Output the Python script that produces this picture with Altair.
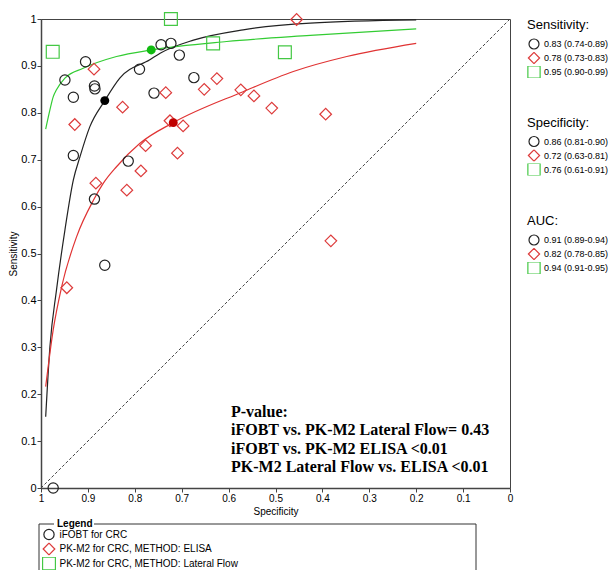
import altair as alt
import pandas as pd

# ---------------- data ----------------
series_names = ["iFOBT for CRC", "PK-M2 for CRC, METHOD: ELISA", "PK-M2 for CRC, METHOD: Lateral Flow"]
series_shapes = ["circle", "diamond", "square"]
series_sizes = [105, 165, 75]
legend_sizes = [100, 150, 68]
marker_colors = ["#222222", "#dd3b3b", "#44c844"]
curve_colors = ["#222222", "#e03333", "#33cc33"]
summary_colors = ["#000000", "#c00000", "#11bb11"]

ifobt_spec = [0.949, 0.931, 0.905, 0.886, 0.885, 0.931, 0.886, 0.814, 0.790, 0.759, 0.744, 0.723, 0.705, 0.674, 0.864, 0.974]
ifobt_sens = [0.870, 0.833, 0.909, 0.857, 0.851, 0.709, 0.616, 0.697, 0.893, 0.842, 0.945, 0.948, 0.923, 0.875, 0.475, 0.0]

elisa_spec = [0.887, 0.928, 0.826, 0.734, 0.652, 0.625, 0.574, 0.546, 0.508, 0.725, 0.697, 0.777, 0.709, 0.883, 0.787, 0.817, 0.945, 0.455, 0.393, 0.382]
elisa_sens = [0.893, 0.775, 0.812, 0.843, 0.850, 0.873, 0.849, 0.836, 0.810, 0.783, 0.772, 0.730, 0.714, 0.650, 0.676, 0.635, 0.427, 0.999, 0.797, 0.527]

lf_spec = [0.975, 0.723, 0.633, 0.480]
lf_sens = [0.930, 1.000, 0.948, 0.929]

summary_spec = [0.864, 0.718, 0.765]
summary_sens = [0.826, 0.779, 0.934]

# SROC curves
ifobt_curve_spec = [0.990, 0.981, 0.967, 0.949, 0.931, 0.917, 0.896, 0.864, 0.832, 0.768, 0.746, 0.675, 0.569, 0.426, 0.200]
ifobt_curve_sens = [0.152, 0.301, 0.422, 0.550, 0.657, 0.706, 0.770, 0.826, 0.874, 0.913, 0.927, 0.955, 0.977, 0.991, 0.998]
elisa_curve_spec = [0.990, 0.974, 0.956, 0.924, 0.888, 0.867, 0.839, 0.789, 0.718, 0.569, 0.462, 0.348, 0.200]
elisa_curve_sens = [0.216, 0.337, 0.429, 0.536, 0.614, 0.650, 0.685, 0.735, 0.779, 0.845, 0.888, 0.920, 0.948]
lf_curve_spec = [0.990, 0.981, 0.974, 0.967, 0.949, 0.910, 0.839, 0.765, 0.604, 0.426, 0.200]
lf_curve_sens = [0.765, 0.806, 0.834, 0.849, 0.874, 0.895, 0.920, 0.934, 0.952, 0.965, 0.979]

diag_spec = [1.0, 0.0]
diag_sens = [0.0, 1.0]

sens_labels = ["0.83 (0.74-0.89)", "0.78 (0.73-0.83)", "0.95 (0.90-0.99)"]
spec_labels = ["0.86 (0.81-0.90)", "0.72 (0.63-0.81)", "0.76 (0.61-0.91)"]
auc_labels = ["0.91 (0.89-0.94)", "0.82 (0.78-0.85)", "0.94 (0.91-0.95)"]

pvalue_lines = ["P-value:",
                "iFOBT vs. PK-M2 Lateral Flow= 0.43",
                "iFOBT vs. PK-M2 ELISA <0.01",
                "PK-M2 Lateral Flow vs. ELISA <0.01"]

axis_ticks = [0, 0.1, 0.2, 0.3, 0.4, 0.5, 0.6, 0.7, 0.8, 0.9, 1]

# ---------------- tables ----------------
pts = pd.concat([
    pd.DataFrame({"spec": ifobt_spec, "sens": ifobt_sens, "series": series_names[0]}),
    pd.DataFrame({"spec": elisa_spec, "sens": elisa_sens, "series": series_names[1]}),
    pd.DataFrame({"spec": lf_spec, "sens": lf_sens, "series": series_names[2]}),
], ignore_index=True)
summ = pd.DataFrame({"spec": summary_spec, "sens": summary_sens, "series": series_names})
curves = pd.concat([
    pd.DataFrame({"spec": ifobt_curve_spec, "sens": ifobt_curve_sens, "series": series_names[0]}),
    pd.DataFrame({"spec": elisa_curve_spec, "sens": elisa_curve_sens, "series": series_names[1]}),
    pd.DataFrame({"spec": lf_curve_spec, "sens": lf_curve_sens, "series": series_names[2]}),
], ignore_index=True)
diag = pd.DataFrame({"spec": diag_spec, "sens": diag_sens})
one = pd.DataFrame({"k": [0]})

FONT = "Liberation Sans"

x_enc = alt.X("spec:Q", scale=alt.Scale(domain=[0, 1], reverse=True, nice=False),
              axis=alt.Axis(values=axis_ticks, format="~g", title="Specificity",
                            labelFontSize=10, titleFontSize=10, tickSize=4,
                            labelPadding=1, titlePadding=3, labelFlush=False))
y_enc = alt.Y("sens:Q", scale=alt.Scale(domain=[0, 1], nice=False),
              axis=alt.Axis(values=axis_ticks, format="~g", title="Sensitivity",
                            labelFontSize=11, titleFontSize=10, tickSize=4,
                            labelPadding=1, titlePadding=2, labelFlush=False))

diag_layer = alt.Chart(diag).mark_line(color="#444444", strokeDash=[3, 2], strokeWidth=1).encode(
    x=x_enc, y=y_enc)

curve_layer = alt.Chart(curves).mark_line(strokeWidth=1.2, interpolate="monotone").encode(
    x=x_enc, y=y_enc,
    color=alt.Color("series:N", scale=alt.Scale(domain=series_names, range=curve_colors), legend=None),
    order=alt.Order("spec:Q", sort="descending"))

main_legend = alt.Legend(title=None, orient="none", legendX=0.5, legendY=509,
                         labelFont=FONT, labelFontSize=10, labelColor="black", labelLimit=400,
                         symbolStrokeWidth=1.2, padding=0, labelOffset=3,
                         rowPadding=1.5, clipHeight=13)
pts_layer = alt.Chart(pts).mark_point(filled=False, opacity=1, strokeWidth=1.2).encode(
    x=x_enc, y=y_enc,
    color=alt.Color("series:N", scale=alt.Scale(domain=series_names, range=marker_colors), legend=main_legend),
    shape=alt.Shape("series:N", scale=alt.Scale(domain=series_names, range=series_shapes), legend=main_legend),
    size=alt.Size("series:N", scale=alt.Scale(domain=series_names, range=series_sizes), legend=main_legend))

summ_layer = alt.Chart(summ).mark_point(filled=True, opacity=1, size=80, shape="circle").encode(
    x=x_enc, y=y_enc,
    color=alt.Color("series:N", scale=alt.Scale(domain=series_names, range=summary_colors), legend=None))


def stat_layer(labels, title, ly):
    lg = alt.Legend(title=title, orient="none", legendX=486, legendY=ly,
                    titleFont=FONT, titleFontSize=13, titleFontWeight="normal", titleColor="black",
                    titlePadding=6, labelFont=FONT, labelFontSize=9, labelColor="black", labelLimit=200,
                    symbolStrokeWidth=1.2, symbolOpacity=1, padding=0, labelOffset=3,
                    rowPadding=2, clipHeight=12)
    df = pd.DataFrame({"label": labels})
    return alt.Chart(df).mark_point(filled=False, opacity=0).encode(
        color=alt.Color("label:N", scale=alt.Scale(domain=labels, range=marker_colors), legend=lg),
        shape=alt.Shape("label:N", scale=alt.Scale(domain=labels, range=series_shapes), legend=lg),
        size=alt.Size("label:N", scale=alt.Scale(domain=labels, range=legend_sizes), legend=lg))


sens_layer = stat_layer(sens_labels, "Sensitivity:", 0)
spec_layer = stat_layer(spec_labels, "Specificity:", 97.5)
auc_layer = stat_layer(auc_labels, "AUC:", 196)

box_layer = alt.Chart(one).mark_rect(fillOpacity=0, stroke="#333333", strokeWidth=1).encode(
    x=alt.value(-2), x2=alt.value(435), y=alt.value(505), y2=alt.value(620))
box_gap = alt.Chart(one).mark_rect(fill="white").encode(
    x=alt.value(13), x2=alt.value(53), y=alt.value(500), y2=alt.value(510))
box_title = alt.Chart(one).mark_text(font=FONT, fontSize=10, fontWeight="bold", color="black",
                                     align="left", baseline="middle").encode(
    x=alt.value(16), y=alt.value(505), text=alt.value("Legend"))

ptext = alt.Chart(one).mark_text(font="Liberation Serif", fontSize=16, fontWeight="bold", color="black",
                                 align="left", baseline="alphabetic", lineHeight=18.3).encode(
    x=alt.value(190), y=alt.value(398), text=alt.value(pvalue_lines))

chart = alt.layer(
    diag_layer, curve_layer, pts_layer, summ_layer,
    sens_layer, spec_layer, auc_layer,
    box_layer, box_gap, box_title, ptext
).resolve_scale(
    color="independent", shape="independent", size="independent"
).properties(
    width=469, height=469,
    padding={"left": 41, "top": 19, "right": 102, "bottom": 82},
    autosize=alt.AutoSizeParams(type="none"),
    background="white"
).configure_view(
    stroke="#444444", strokeWidth=1
).configure_axis(
    labelFont=FONT, titleFont=FONT, labelColor="black", titleColor="black",
    tickColor="#444444", domainColor="#444444", domainWidth=1.5, grid=False,
    titleFontWeight="normal"
)

chart.save("out.html", embed_options={"renderer": "svg", "actions": False})
